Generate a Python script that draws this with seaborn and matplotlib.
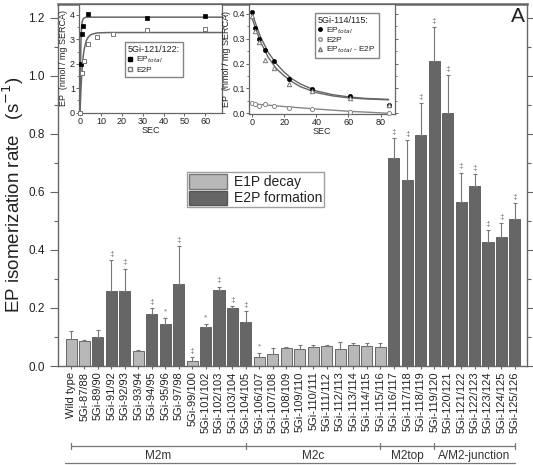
import numpy as np
import pandas as pd
import matplotlib
matplotlib.use("Agg")
import matplotlib.pyplot as plt
import matplotlib.transforms as mtransforms
from matplotlib.patches import Patch
from matplotlib.lines import Line2D
import seaborn as sns

# --- data ---
mutants = ["Wild type", "5Gi-87/88", "5Gi-89/90", "5Gi-91/92", "5Gi-92/93", "5Gi-93/94",
           "5Gi-94/95", "5Gi-95/96", "5Gi-97/98", "5Gi-99/100", "5Gi-101/102", "5Gi-102/103",
           "5Gi-103/104", "5Gi-104/105", "5Gi-106/107", "5Gi-107/108", "5Gi-108/109",
           "5Gi-109/110", "5Gi-110/111", "5Gi-111/112", "5Gi-112/113", "5Gi-113/114",
           "5Gi-114/115", "5Gi-115/116", "5Gi-116/117", "5Gi-117/118", "5Gi-118/119",
           "5Gi-119/120", "5Gi-120/121", "5Gi-121/122", "5Gi-122/123", "5Gi-123/124",
           "5Gi-124/125", "5Gi-125/126"]
rates = [0.094, 0.087, 0.099, 0.259, 0.259, 0.052, 0.178, 0.145, 0.282, 0.017, 0.136, 0.261,
         0.201, 0.151, 0.030, 0.042, 0.063, 0.060, 0.067, 0.069, 0.059, 0.074, 0.068, 0.067,
         0.717, 0.641, 0.797, 1.050, 0.873, 0.567, 0.621, 0.428, 0.446, 0.507]
err_top = [0.120, 0.091, 0.123, 0.365, 0.336, 0.055, 0.201, 0.167, 0.414, 0.030, 0.146, 0.274,
           0.207, 0.190, 0.046, 0.063, 0.066, 0.071, 0.074, 0.074, 0.083, 0.080, 0.080, 0.078,
           0.786, 0.780, 0.907, 1.170, 1.003, 0.667, 0.662, 0.469, 0.493, 0.562]
L, D = "E1P decay", "E2P formation"
kinds = [L, L, D, D, D, L, D, D, D, L, D, D, D, D, L, L, L, L, L, L, L, L, L, L,
         D, D, D, D, D, D, D, D, D, D]
marks = ["", "", "", "‡", "‡", "", "‡", "*", "‡", "‡", "*", "‡", "‡", "‡", "*",
         "", "", "", "", "", "", "", "", "",
         "‡", "‡", "‡", "‡", "‡", "‡", "‡", "‡", "‡", "‡"]
groups = ["M2m", "M2c", "M2top", "A/M2-junction"]
group_edges = [0, 13, 23, 27, 33]

# inset 1: 5Gi-121/122
t1_total = [0.5, 0.8, 1.2, 4, 32, 60]
ep1_total = [2.0, 3.2, 3.56, 4.02, 3.87, 3.94]
t1_e2p = [0, 1, 2, 4, 8, 16, 32, 60]
ep1_e2p = [0.0, 1.6, 2.13, 2.8, 3.1, 3.22, 3.4, 3.41]
fit1_total_t = [0, 0.2, 0.4, 0.7, 1.0, 1.5, 2.5, 4, 68]
fit1_total_y = [0, 1.7, 2.8, 3.45, 3.7, 3.85, 3.9, 3.91, 3.91]
fit1_e2p_t = [0, 0.5, 1, 1.5, 2, 3, 4, 5, 6, 8, 10, 14, 68]
fit1_e2p_y = [0, 1.1, 1.8, 2.3, 2.6, 2.95, 3.1, 3.18, 3.22, 3.26, 3.27, 3.28, 3.28]

# inset 2: 5Gi-114/115
t2 = [0, 1.7, 4.2, 7.7, 13.3, 22.7, 37.3, 60.8, 85]
ep2_total = [0.409, 0.343, 0.299, 0.256, 0.209, 0.136, 0.096, 0.069, 0.032]
ep2_e2p = [0.040, 0.037, 0.030, 0.039, 0.031, 0.023, 0.016, 0.007, 0.0]
ep2_diff = [0.390, 0.330, 0.285, 0.216, 0.183, 0.116, 0.089, 0.063, 0.032]
fit2_t = [0, 5, 10, 15, 20, 25, 30, 40, 50, 60, 70, 85]
fit2_total = [0.40, 0.31, 0.245, 0.20, 0.165, 0.138, 0.118, 0.090, 0.075, 0.066, 0.060, 0.056]
fit2_diff = [0.38, 0.29, 0.225, 0.18, 0.150, 0.126, 0.107, 0.083, 0.070, 0.062, 0.058, 0.054]
fit2_e2p_t = [0, 20, 40, 60, 85]
fit2_e2p = [0.038, 0.027, 0.017, 0.008, 0.0]

# --- style ---
sns.set_style("ticks")
plt.rcParams["font.family"] = ["Liberation Sans", "DejaVu Sans"]
plt.rcParams["axes.edgecolor"] = "#666666"
plt.rcParams["text.color"] = "#222222"
plt.rcParams["xtick.color"] = "#666666"
plt.rcParams["ytick.color"] = "#666666"
plt.rcParams["xtick.labelcolor"] = "#222222"
plt.rcParams["ytick.labelcolor"] = "#222222"

LIGHT, DARK = "#b8b8b8", "#666666"
W, H = 533, 465

fig = plt.figure(figsize=(W / 100, H / 100), dpi=100)
ax = fig.add_axes([58 / W, 1 - 366 / H, 469 / W, 362 / H])

df = pd.DataFrame({"mutant": mutants, "rate": rates, "kind": kinds})
sns.barplot(data=df, x="mutant", y="rate", hue="kind", order=mutants, hue_order=[L, D],
            palette={L: LIGHT, D: DARK}, dodge=False, width=0.82, edgecolor="#555555",
            linewidth=0.6, legend=False, ax=ax)

n = len(mutants)
xs = np.arange(n)
ax.errorbar(xs, rates, yerr=[np.zeros(n), np.array(err_top) - np.array(rates)], fmt="none",
            ecolor="#777777", elinewidth=0.8, capsize=1.6, capthick=0.8, zorder=1)
for i, m in enumerate(marks):
    if m:
        ax.annotate(m, (i, err_top[i]), xytext=(0, 1.5), textcoords="offset points",
                    ha="center", va="bottom", fontsize=6, color="#777777")

ax.set_xlim(-0.97, 33.9)
ax.set_ylim(0, 1.248)
ax.set_xticks(xs)
ax.set_xticklabels(mutants, rotation=90, fontsize=8)
ax.set_yticks(np.arange(0, 1.21, 0.2))
ax.set_yticklabels([f"{v:.1f}" for v in np.arange(0, 1.21, 0.2)], fontsize=8.5)
ax.set_yticks(np.arange(0.1, 1.21, 0.2), minor=True)
ax.tick_params(axis="y", which="major", length=6, width=0.8, right=True, direction="out")
ax.tick_params(axis="y", which="minor", length=3, width=0.8, right=True, direction="out")
ax.tick_params(axis="x", length=2, pad=2)
ax.set_xlabel("")
ax.set_ylabel("")
for s in ax.spines.values():
    s.set_linewidth(1.0)
ax.spines["top"].set_linewidth(1.8)

fig.text(13 / W, 1 - 195 / H, "EP isomerization rate   (s$^{-1}$)", rotation=90,
         fontsize=13.5, ha="center", va="center")
fig.text(518 / W, 1 - 17 / H, "A", fontsize=15, ha="center", va="center")

handles = [Patch(facecolor=LIGHT, edgecolor="#777777"), Patch(facecolor=DARK, edgecolor="#555555")]
leg = ax.legend(handles, [L, D], loc="upper left", bbox_to_anchor=(0.275, 0.535), fontsize=10,
                handlelength=2.7, handleheight=1.2, labelspacing=0.1, handletextpad=0.5,
                borderpad=0.15, frameon=True, fancybox=False, edgecolor="#888888",
                borderaxespad=0)
leg.get_frame().set_linewidth(1.0)

# group brackets under the tick labels
trans = mtransforms.blended_transform_factory(ax.transData, fig.transFigure)
yb = 1 - 446 / H
ax.add_line(Line2D([group_edges[0], group_edges[-1]], [yb, yb], transform=trans,
                   color="#777777", lw=0.9, clip_on=False))
for e in group_edges:
    ax.add_line(Line2D([e, e], [yb - 3 / H, yb + 3 / H], transform=trans,
                       color="#777777", lw=0.9, clip_on=False))
for g, a, b in zip(groups, group_edges[:-1], group_edges[1:]):
    ax.text((a + b) / 2, 1 - 456 / H, g, transform=trans, ha="center", va="center",
            fontsize=8.5, color="#333333")
ax.add_line(Line2D([-0.45, 33], [1 - 463 / H, 1 - 463 / H], transform=trans,
                   color="#777777", lw=0.9, clip_on=False))

# --- inset 1 ---
axL = fig.add_axes([79 / W, 1 - 113 / H, 143 / W, 109 / H])
sns.lineplot(x=fit1_total_t, y=fit1_total_y, color="#666666", lw=1.1, estimator=None,
             sort=False, ax=axL)
sns.lineplot(x=fit1_e2p_t, y=fit1_e2p_y, color="#666666", lw=1.1, estimator=None,
             sort=False, ax=axL)
sns.scatterplot(x=t1_total, y=ep1_total, marker="s", s=10, color="black", edgecolor="black",
                linewidth=0.5, clip_on=False, zorder=5, ax=axL)
sns.scatterplot(x=t1_e2p, y=ep1_e2p, marker="s", s=10, color="white", edgecolor="#777777",
                linewidth=0.7, clip_on=False, zorder=5, ax=axL)
axL.set_xlim(-0.5, 68)
axL.set_ylim(-0.02, 4.45)
axL.set_xticks(range(0, 61, 10))
axL.set_yticks(range(0, 5))
axL.set_yticks(np.arange(0.5, 4.5, 1), minor=True)
axL.tick_params(labelsize=6.5, length=2, pad=1, width=0.7)
axL.tick_params(axis="y", which="both", right=True)
axL.tick_params(axis="y", which="minor", length=1.5)
axL.set_xlabel("SEC", fontsize=6.5, labelpad=0)
axL.set_ylabel("EP  (nmol / mg SERCA)", fontsize=6.5, labelpad=1)
h1 = [Line2D([], [], marker="s", ls="none", color="black", ms=3),
      Line2D([], [], marker="s", ls="none", mfc="white", mec="#777777", ms=3)]
lg1 = axL.legend(h1, ["EP$_{total}$", "E2P"], title="5Gi-121/122:", loc="upper left",
                 bbox_to_anchor=(0.32, 0.65), fontsize=6, title_fontsize=6.5, frameon=True,
                 fancybox=False, edgecolor="#666666", handlelength=0.6, handletextpad=0.4,
                 borderpad=0.35, labelspacing=0.1, borderaxespad=0)
lg1._legend_box.align = "left"

# --- inset 2 ---
axR = fig.add_axes([249 / W, 1 - 114 / H, 146 / W, 110 / H])
for fy in (fit2_total, fit2_diff):
    sns.lineplot(x=fit2_t, y=fy, color="#666666", lw=1.0, estimator=None, sort=False, ax=axR)
sns.lineplot(x=fit2_e2p_t, y=fit2_e2p, color="#888888", lw=1.0, estimator=None, sort=False,
             ax=axR)
sns.scatterplot(x=t2, y=ep2_total, marker="o", s=9, color="black", edgecolor="black",
                linewidth=0.5, clip_on=False, zorder=5, ax=axR)
sns.scatterplot(x=t2, y=ep2_e2p, marker="o", s=9, color="white", edgecolor="#888888",
                linewidth=0.7, clip_on=False, zorder=5, ax=axR)
sns.scatterplot(x=t2, y=ep2_diff, marker="^", s=10, color="white", edgecolor="#777777",
                linewidth=0.7, clip_on=False, zorder=5, ax=axR)
axR.set_xlim(-2, 89)
axR.set_ylim(-0.003, 0.44)
axR.set_xticks(range(0, 81, 20))
axR.set_yticks(np.arange(0, 0.41, 0.1))
axR.set_yticklabels([f"{v:.1f}" for v in np.arange(0, 0.41, 0.1)])
axR.set_yticks(np.arange(0.05, 0.44, 0.1), minor=True)
axR.tick_params(labelsize=6.5, length=2, pad=1, width=0.7)
axR.tick_params(axis="y", which="both", right=True)
axR.tick_params(axis="y", which="minor", length=1.5)
axR.set_xlabel("SEC", fontsize=6.5, labelpad=0)
axR.set_ylabel("EP  (nmol / mg SERCA)", fontsize=6.5, labelpad=1)
h2 = [Line2D([], [], marker="o", ls="none", color="black", ms=2.5),
      Line2D([], [], marker="o", ls="none", mfc="white", mec="#888888", ms=2.5),
      Line2D([], [], marker="^", ls="none", mfc="white", mec="#777777", ms=2.8)]
lg2 = axR.legend(h2, ["EP$_{total}$", "E2P", "EP$_{total}$ - E2P"], title="5Gi-114/115:",
                 loc="upper left", bbox_to_anchor=(0.452, 0.918), fontsize=6,
                 title_fontsize=6.5, frameon=True, fancybox=False, edgecolor="#666666",
                 handlelength=0.6, handletextpad=0.4, borderpad=0.35, labelspacing=0.05,
                 borderaxespad=0)
lg2._legend_box.align = "left"

for a in (axL, axR):
    for s in a.spines.values():
        s.set_linewidth(0.9)

fig.savefig("out.png", dpi=100)
